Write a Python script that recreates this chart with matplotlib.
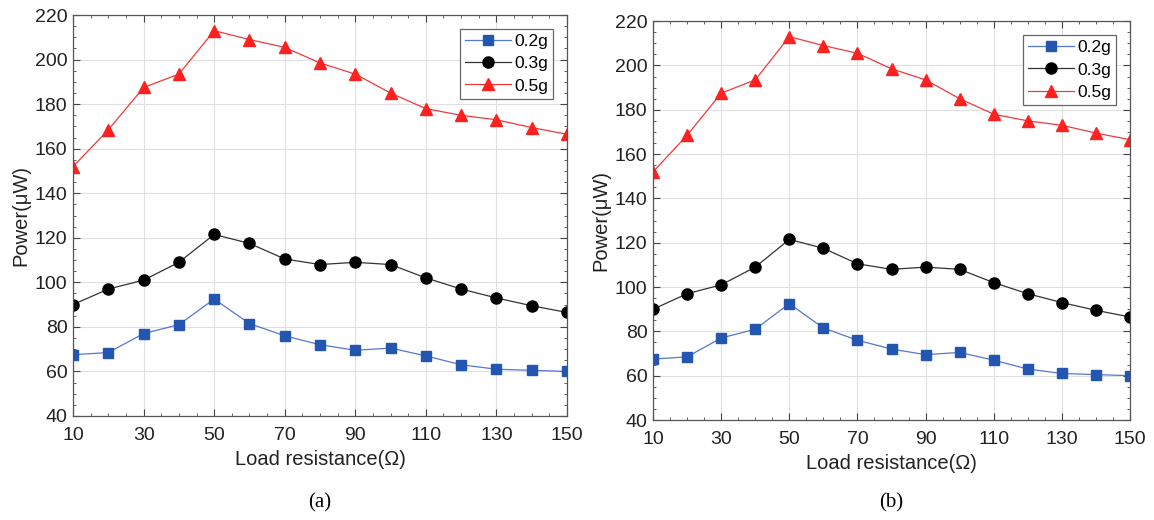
import matplotlib
matplotlib.use('Agg')
import matplotlib.pyplot as plt
from matplotlib.ticker import MultipleLocator

plt.rcParams['font.family'] = ['Liberation Sans', 'DejaVu Sans']

# load resistance (ohm)
R = [10, 20, 30, 40, 50, 60, 70, 80, 90, 100, 110, 120, 130, 140, 150]
# power (uW)
P_02 = [67.5, 68.5, 77, 81, 92.5, 81.5, 76, 72, 69.5, 70.5, 67, 63, 61, 60.5, 60]
P_03 = [90, 97, 101, 109, 121.5, 117.5, 110.5, 108, 109, 108, 102, 97, 93, 89.5, 86.5]
P_05 = [152, 168.5, 187.5, 193.5, 213, 209, 205.5, 198.5, 193.5, 185, 178, 175, 173, 169.5, 166.5]
xticks = [10, 30, 50, 70, 90, 110, 130, 150]
captions = ['(a)', '(b)']

fig = plt.figure(figsize=(11.54, 5.2), dpi=100)
boxes = [[0.0633, 0.200, 0.428, 0.771], [0.5659, 0.1923, 0.4133, 0.767]]

for box, cap in zip(boxes, captions):
    ax = fig.add_axes(box)
    ax.plot(R, P_02, color='#5577cc', lw=0.9, marker='s', ms=6.5, mfc='#2356b0', mec='#2356b0', label='0.2g')
    ax.plot(R, P_03, color='#333333', lw=0.9, marker='o', ms=8, mfc='black', mec='black', label='0.3g')
    ax.plot(R, P_05, color='#f03a3a', lw=0.9, marker='^', ms=8.5, mfc='#ff2020', mec='#ff2020', label='0.5g')
    ax.set_xlim(10, 150)
    ax.set_ylim(40, 220)
    ax.set_xticks(xticks)
    ax.yaxis.set_major_locator(MultipleLocator(20))
    ax.xaxis.set_minor_locator(MultipleLocator(5))
    ax.yaxis.set_minor_locator(MultipleLocator(5))
    ax.tick_params(which='both', direction='in', top=True, right=True, labelsize=14, colors='#444444')
    ax.tick_params(which='major', length=5)
    ax.tick_params(which='minor', length=2.5)
    ax.tick_params(axis='x', which='major', pad=8)
    ax.tick_params(axis='y', which='major', pad=4)
    for lab in ax.get_xticklabels() + ax.get_yticklabels():
        lab.set_color('#222222')
    ax.grid(True, which='major', color='#e0e0e0', lw=0.8)
    for s in ax.spines.values():
        s.set_color('#555555')
        s.set_linewidth(0.9)
    ax.set_xlabel('Load resistance(Ω)', fontsize=14.5, labelpad=4, color='#222222')
    ax.set_ylabel('Power(μW)', fontsize=14.5, labelpad=3, color='#222222')
    leg = ax.legend(loc='upper right', fontsize=12.5, fancybox=False, framealpha=1,
                    edgecolor='#666666', handlelength=2.6, borderpad=0.3,
                    labelspacing=0.4, handletextpad=0.2, borderaxespad=0.8)
    leg.get_frame().set_linewidth(0.9)
    x0 = box[0] + box[2] / 2
    fig.text(x0, 0.033, cap, ha='center', va='center', fontsize=15, family='Liberation Serif')

fig.savefig('out.png', dpi=100)
